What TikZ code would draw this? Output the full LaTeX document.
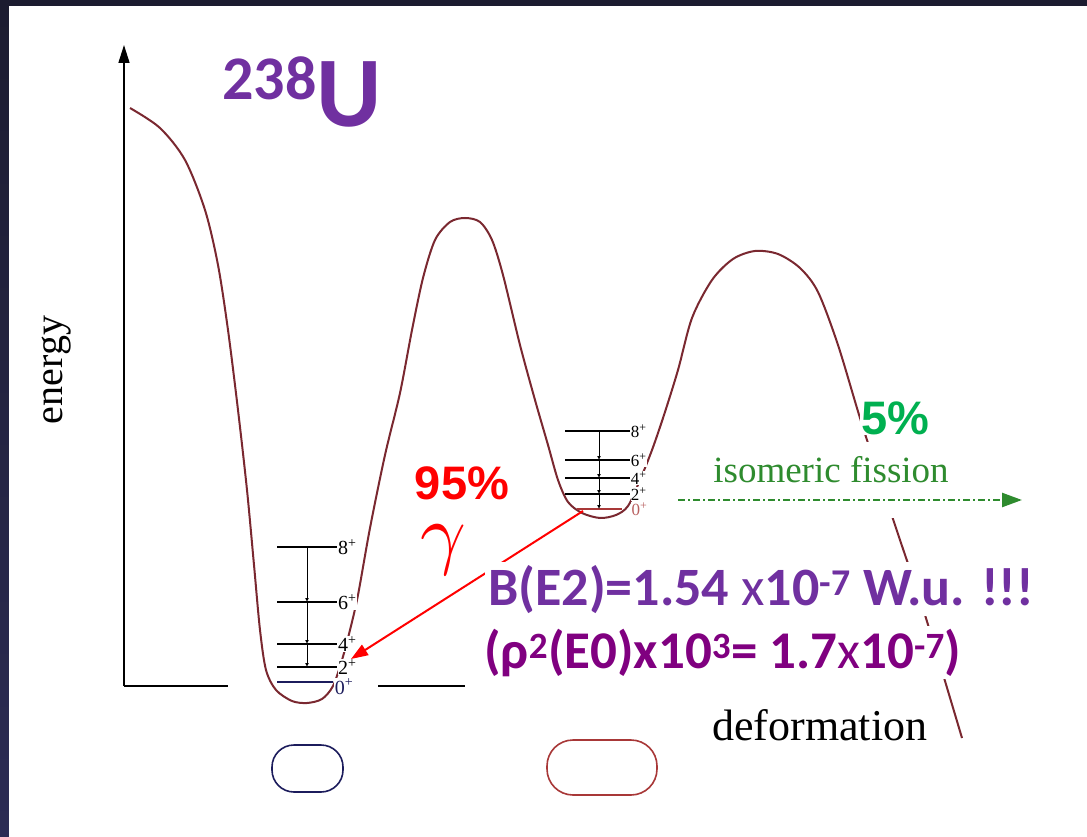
\documentclass[tikz,border=0pt]{standalone}
\usepackage{fontspec}
\setmainfont{Liberation Serif}
\newfontfamily\calfont{Carlito}
\newfontfamily\arifont{Liberation Sans}
\usetikzlibrary{arrows.meta}
\definecolor{frametop}{HTML}{1C1C30}
\definecolor{framebot}{HTML}{2C2C54}
\definecolor{pot}{HTML}{7A2830}
\definecolor{uvio}{HTML}{7030A0}
\definecolor{plum}{HTML}{800080}
\definecolor{gfis}{HTML}{2E8B2E}
\definecolor{gpct}{HTML}{00B050}
\definecolor{navy}{HTML}{1C1C5C}
\definecolor{rlev}{HTML}{A83838}
\tikzset{
  potl/.style={draw=pot,line width=2pt},
  axl/.style={draw=black,line width=1.6pt},
  lvl/.style={draw=black,line width=1.2pt},
  trans/.style={draw=black,line width=1pt,-{Latex[length=4pt,width=4pt]}},
  lab/.style={font=\fontsize{20}{20}\selectfont,fill=white,inner sep=0.6pt,anchor=west},
  slab/.style={lab,font=\fontsize{17}{17}\selectfont,inner sep=0.3pt},
  pct/.style={font=\arifont\bfseries\fontsize{47}{47}\selectfont,inner sep=1pt,text depth=0pt},
  big/.style={font=\calfont\bfseries\fontsize{54}{54}\selectfont,fill=white,inner sep=3pt,anchor=base west},
  gam/.style={draw=red,line width=2pt,-{Triangle[length=17pt,width=12pt]}},
  fis/.style={draw=gfis,line width=2.4pt,dash pattern=on 7pt off 3pt on 2pt off 3pt,
    -{Triangle[length=20pt,width=14pt]}},
}

\begin{document}
\begin{tikzpicture}[x=1pt,y=-1pt]
  \useasboundingbox (0,0) rectangle (1087,837);
  % slide frame
  \shade[top color=frametop,bottom color=framebot] (0,0) rectangle (1087,837);
  \fill[white] (9,6) rectangle (1087,837);

  % axes
  \draw[axl,-{Triangle[length=18pt,width=11pt]}] (124,686) -- (124,45);
  \draw[axl] (124,686) -- (228,686);
  \draw[axl] (378,686) -- (465,686);
  \node[rotate=90,font=\fontsize{40}{40}\selectfont] (en) at (57,370) {energy};

  % potential energy curve
  \draw[potl] plot[smooth,tension=0.5] coordinates {
    (130,108) (160,128) (185,160) (205,210) (218,265) (228,330) (238,410)
    (247,490) (254,565) (260,630) (266,670) (276,690) (292,701) (307,703)
    (322,699) (333,686) (342,660) (350,630) (358,595) (370,528) (385,455)
    (400,393) (412,330) (423,278) (435,240) (450,222) (465,218) (480,222)
    (492,240) (503,275) (520,345) (535,400) (548,445) (558,480) (568,502)
    (582,513) (600,518) (616,515) (628,506) (640,480) (652,450) (664,415)
    (678,370) (692,318) (712,280) (733,259) (755,251) (778,254) (800,268)
    (818,292) (838,345) (860,418) (880,480) (900,540) (925,615) (962,738)};

  % first well: ground band
  \foreach \y/\j in {547/8,602/6,644/4,667/2}
    \draw[lvl] (277,\y) -- (337,\y) node[lab] (gs\j) {\j\textsuperscript{+}};
  \draw[draw=navy,line width=2.6pt] (277,682) -- (333,682) node[lab,text=navy,anchor=north west,yshift=5pt] (gs0) {0\textsuperscript{+}};
  \draw[trans] (307,547) -- (307,602);
  \draw[trans] (307,602) -- (307,644);
  \draw[trans] (307,644) -- (307,667);

  % second well: isomer band
  \foreach \y/\j in {431/8,460/6,478/4,494/2}
    \draw[lvl] (565,\y) -- (630,\y) node[slab] (is\j) {\j\textsuperscript{+}};
  \draw[draw=rlev,line width=2.6pt] (577,509) -- (622,509) node[slab,text=rlev!80,xshift=8pt] (is0) {0\textsuperscript{+}};
  \draw[trans] (599,431) -- (599,460);
  \draw[trans] (599,460) -- (599,478);
  \draw[trans] (599,478) -- (599,494);
  \draw[trans] (599,494) -- (599,509);

  % gamma decay of the isomer
  \coordinate (iso) at (583,511);
  \coordinate (hit) at (351,659);
  \draw[gam] (iso) -- (hit);
  \node[pct,text=red,anchor=base] (p95) at (462,499) {95\%};
  \node[text=red,scale=8,inner sep=0pt] (gm) at (443,550) {$\gamma$};

  % fission branch
  \node[pct,text=gpct,fill=white] (p5) at (895,418) {5\%};
  \node[fill=white,minimum height=76pt,minimum width=250pt,inner sep=0pt,anchor=north] (fl) at (831,442) {};
  \node[text=gfis,font=\fontsize{37}{37}\selectfont] (flt) at (831,470) {isomeric fission};
  \coordinate (fs) at (678,500);
  \coordinate (fe) at (1022,500);
  \draw[fis] (fs) -- (fe);

  % nucleus label and numbers
  \node[anchor=base west,text=uvio,font=\calfont\bfseries,inner sep=0pt] (nuc) at (222,127)
    {\raisebox{27pt}{\fontsize{62}{62}\selectfont 238}\fontsize{100}{100}\selectfont U};
  \node[big,text=uvio] (be2) at (485,605)
    {B(E2)=1.54 {\mdseries x}10\textsuperscript{-7} W.u. !!!};
  \node[big,text=plum,font=\calfont\bfseries\fontsize{53}{53}\selectfont] (rho) at (481,668)
    {(ρ\textsuperscript{2}(E0)x10\textsuperscript{3}= 1.7{\mdseries x}10\textsuperscript{-7})};
  \node[anchor=base west,font=\fontsize{44}{44}\selectfont,inner sep=0pt] (def) at (712,740) {deformation};

  % shapes
  \draw[navy,line width=1.6pt,rounded corners=22pt] (272,745) rectangle (343,792);
  \draw[rlev,line width=1.6pt,rounded corners=26pt] (547,740) rectangle (657,795);
\end{tikzpicture}
\end{document}
